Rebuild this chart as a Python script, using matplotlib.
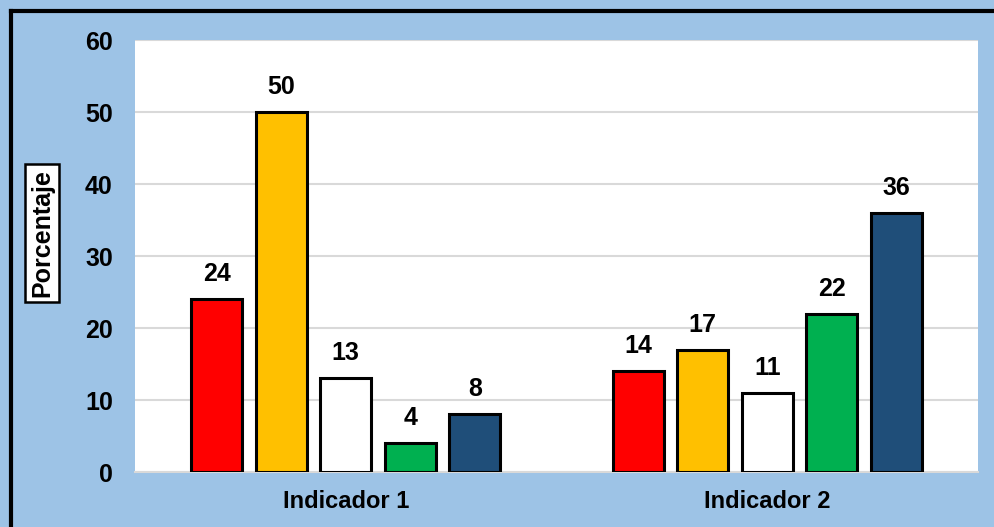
"""Grouped bar chart: percentage per indicator."""
import matplotlib
matplotlib.use("Agg")
import matplotlib.pyplot as plt
from matplotlib.lines import Line2D
import numpy as np

categories = ["Indicador 1", "Indicador 2"]
series_values = [
    [24, 14],
    [50, 17],
    [13, 11],
    [4, 22],
    [8, 36],
]
series_colors = ["#FF0000", "#FFC000", "#FFFFFF", "#00B050", "#1F4E79"]
y_ticks = [0, 10, 20, 30, 40, 50, 60]

plt.rcParams["font.family"] = ["Liberation Sans", "DejaVu Sans"]

fig = plt.figure(figsize=(9.94, 5.27), dpi=100)
fig.patch.set_facecolor("#9DC3E6")

# figure frame (only top and left edges are visible in the reference)
fig.add_artist(Line2D([10.5 / 994, 10.5 / 994], [0, 1 - 10.5 / 527],
                      transform=fig.transFigure, color="black", lw=3))
fig.add_artist(Line2D([10.5 / 994, 1], [1 - 10.5 / 527, 1 - 10.5 / 527],
                      transform=fig.transFigure, color="black", lw=3))

ax = fig.add_axes([135 / 994, 1 - 472 / 527, 843 / 994, 432 / 527])
ax.set_facecolor("white")

x = np.arange(len(categories))
width = 0.121
step = 0.153
for i, (vals, color) in enumerate(zip(series_values, series_colors)):
    pos = x + (i - 2) * step
    ax.bar(pos, vals, width=width, color=color, edgecolor="black",
           linewidth=2.2, zorder=3)
    for px, v in zip(pos, vals):
        ax.text(px, v + 2.5, str(v), ha="center", va="baseline",
                fontsize=18, fontweight="bold")

ax.set_xlim(-0.5, 1.5)
ax.set_ylim(0, 60)
ax.set_yticks(y_ticks)
ax.set_yticklabels([str(t) for t in y_ticks], fontsize=18, fontweight="bold")
ax.set_xticks(x)
ax.set_xticklabels(categories, fontsize=17, fontweight="bold")
ax.tick_params(axis="both", length=0)
ax.tick_params(axis="y", pad=16)
ax.tick_params(axis="x", pad=13)
ax.grid(axis="y", color="#D9D9D9", linewidth=1.5, zorder=0)
for side in ["top", "right", "left"]:
    ax.spines[side].set_visible(False)
ax.spines["bottom"].set_color("#D9D9D9")
ax.spines["bottom"].set_linewidth(1.5)

fig.text(42 / 994, 1 - 233 / 527, "Porcentaje", rotation=90, ha="center",
         va="center", fontsize=18, fontweight="bold",
         bbox=dict(boxstyle="square,pad=0.2", facecolor="white",
                   edgecolor="black", linewidth=1.8))

fig.savefig("out.png", dpi=100, facecolor=fig.get_facecolor())
